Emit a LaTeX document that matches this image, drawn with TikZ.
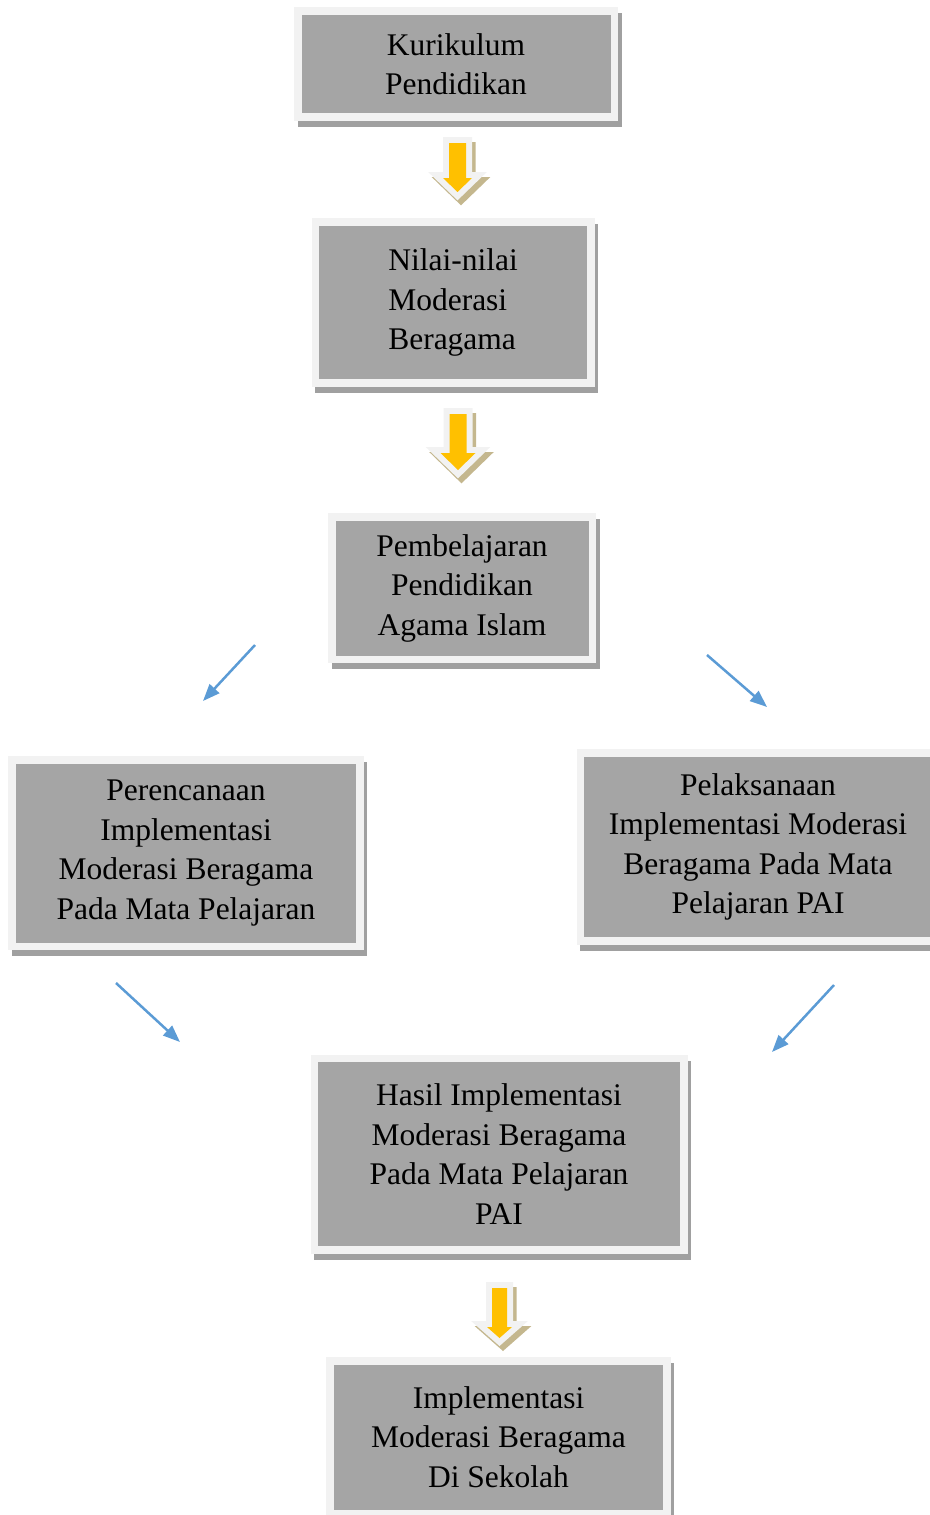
\documentclass[tikz,border=0pt]{standalone}
\usepackage{fontspec}
\setmainfont{Liberation Serif}
\usetikzlibrary{arrows.meta,calc}

\definecolor{boxgray}{HTML}{A5A5A5}
\definecolor{framegray}{HTML}{F2F2F2}
\definecolor{shadowgray}{HTML}{A0A0A0}
\definecolor{arrowyellow}{HTML}{FFC000}
\definecolor{arrowshadow}{HTML}{C4B78E}
\definecolor{linkblue}{HTML}{5B9BD5}

% yellow block arrow: centre, length, shaft half width, head half width, head length
\newcommand{\blockarrow}[5]{%
  \begin{scope}[shift={(#1)}]
    \path[fill=arrowyellow,
      preaction={fill=arrowshadow, draw=arrowshadow, line width=12pt,
        transform canvas={xshift=3.5pt, yshift=-5pt}},
      preaction={draw=framegray, line width=12pt}]
      (-#3,-#2/2) -- (#3,-#2/2) -- (#3,#2/2-#5) -- (#4,#2/2-#5)
      -- (0,#2/2) -- (-#4,#2/2-#5) -- (-#3,#2/2-#5) -- cycle;
  \end{scope}}

\begin{document}
\begin{tikzpicture}
  [
  x=1pt, y=-1pt,
  font={\fontsize{31.5}{39.5}\selectfont}, >={Triangle[length=17pt,width=13pt]},
  box/.style={rectangle, fill=boxgray, draw=framegray, line width=7.5pt, inner sep=0pt, align=center,
    preaction={fill=shadowgray, draw=shadowgray, line width=7.5pt,
      transform canvas={xshift=3.5pt, yshift=-6pt}}},
  link/.style={->, draw=linkblue, line width=2.5pt}
  ]

\useasboundingbox (0,0) rectangle (929,1515);

\node[box, minimum width=316.5, minimum height=106] (kurikulum) at (456,64) {Kurikulum\\Pendidikan};
\node[box, minimum width=275.5, minimum height=161, align=left] (nilai) at (453,302.5) {Nilai-nilai\\Moderasi\\Beragama};
\node[box, minimum width=260.5, minimum height=142.5] (pai) at (462,588) {Pembelajaran\\Pendidikan\\Agama Islam};
\node[box, minimum width=348, minimum height=186.5] (rencana) at (186,853)
  {Perencanaan\\Implementasi\\Moderasi Beragama\\Pada Mata Pelajaran};
\node[box, minimum width=355, minimum height=188] (laksana) at (758,847)
  {Pelaksanaan\\Implementasi Moderasi\\Beragama Pada Mata\\Pelajaran PAI};
\node[box, minimum width=369.5, minimum height=191.5] (hasil) at (499,1154)
  {Hasil Implementasi\\Moderasi Beragama\\Pada Mata Pelajaran\\PAI};
\node[box, minimum width=337, minimum height=152.5] (sekolah) at (498.5,1437)
  {Implementasi\\Moderasi Beragama\\Di Sekolah};

% yellow arrows
\coordinate (ya1) at (457.5,167.5);
\coordinate (ya2) at (458,442);
\coordinate (ya3) at (499.5,1313);
\blockarrow{ya1}{49}{8.5}{14.5}{14}
\blockarrow{ya2}{56}{8.5}{17.5}{17}
\blockarrow{ya3}{50}{7.5}{12.5}{11}

% blue arrows
\coordinate (b1s) at (255,645);  \coordinate (b1e) at (203,701);
\coordinate (b2s) at (707,655);  \coordinate (b2e) at (767,707);
\coordinate (b3s) at (116,983);  \coordinate (b3e) at (180,1042);
\coordinate (b4s) at (834,985);  \coordinate (b4e) at (772,1052);

\draw[link] (b1s) -- (b1e);
\draw[link] (b2s) -- (b2e);
\draw[link] (b3s) -- (b3e);
\draw[link] (b4s) -- (b4e);

\end{tikzpicture}
\end{document}
